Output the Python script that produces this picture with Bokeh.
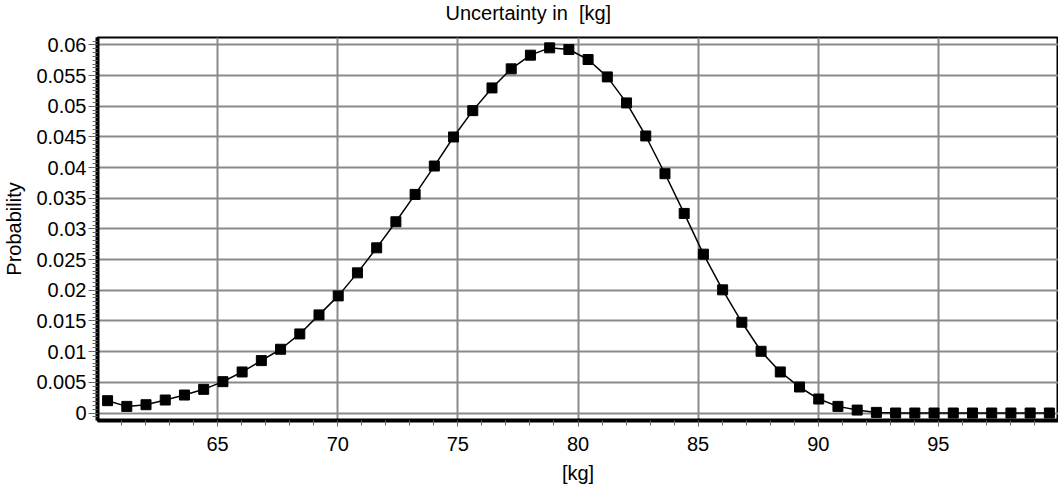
from bokeh.plotting import figure
from bokeh.models import Range1d, FixedTicker, CustomJSTickFormatter
from bokeh.embed import file_html
from bokeh.resources import INLINE

# ---- data ----
kg = [60.42, 61.22, 62.02, 62.82, 63.62, 64.42, 65.22, 66.02, 66.82, 67.62,
      68.42, 69.22, 70.02, 70.82, 71.62, 72.42, 73.22, 74.02, 74.82, 75.62,
      76.42, 77.22, 78.02, 78.82, 79.62, 80.42, 81.22, 82.02, 82.82, 83.62,
      84.42, 85.22, 86.02, 86.82, 87.62, 88.42, 89.22, 90.02, 90.82, 91.62,
      92.42, 93.22, 94.02, 94.82, 95.62, 96.42, 97.22, 98.02, 98.82, 99.62]

probability = [0.00201, 0.00108, 0.00135, 0.00212, 0.00293, 0.00386, 0.00511, 0.00669, 0.00854, 0.01039,
               0.01289, 0.01599, 0.01909, 0.02284, 0.02692, 0.03117, 0.03563, 0.04025, 0.04499, 0.04928,
               0.05298, 0.05609, 0.05832, 0.05951, 0.05924, 0.05761, 0.05478, 0.05054, 0.04515, 0.03900,
               0.03253, 0.02589, 0.02007, 0.01479, 0.01006, 0.00669, 0.00424, 0.00228, 0.00108, 0.00048,
               0.00010, 0.0, 0.0, 0.0, 0.0, 0.0, 0.0, 0.0, 0.0, 0.0]

x_ticks = [65, 70, 75, 80, 85, 90, 95]
y_ticks = [0, 0.005, 0.01, 0.015, 0.02, 0.025, 0.03, 0.035, 0.04, 0.045, 0.05, 0.055, 0.06]
y_tick_labels = ["0", "0.005", "0.01", "0.015", "0.02", "0.025", "0.03", "0.035",
                 "0.04", "0.045", "0.05", "0.055", "0.06"]

title_text = "Uncertainty in\u00a0 [kg]"
x_label = "[kg]"
y_label = "Probability"

FONT = "Liberation Sans"
FS = "20px"

p = figure(width=1058, height=486, output_backend="svg", toolbar_location=None,
           x_range=Range1d(60, 100), y_range=Range1d(-0.00122, 0.0612),
           min_border_left=93, min_border_right=0, min_border_top=37, min_border_bottom=66)

p.background_fill_color = "white"
p.border_fill_color = "white"
p.outline_line_color = "black"
p.outline_line_width = 2

# title
p.title.text = title_text
p.title.text_font = FONT
p.title.text_font_size = FS
p.title.text_font_style = "normal"
p.title.text_color = "black"
p.title.align = "left"
p.title.vertical_align = "top"
p.title.offset = 348
p.title.standoff = 0
p.title.padding = dict(left=0, right=0, top=0, bottom=12)

# tickers
x_minor = [v for v in range(61, 100) if v not in x_ticks]
y_minor = [round(i * 0.000625, 6) for i in range(-1, 98)]
p.xaxis.ticker = FixedTicker(ticks=x_ticks, minor_ticks=x_minor)
p.yaxis.ticker = FixedTicker(ticks=y_ticks, minor_ticks=y_minor)
p.yaxis.formatter = CustomJSTickFormatter(
    args=dict(vals=y_ticks, labels=y_tick_labels),
    code="const i = vals.indexOf(tick); return i >= 0 ? labels[i] : String(tick);")

for ax in (p.xaxis, p.yaxis):
    ax.axis_line_color = "black"
    ax.axis_line_width = 4
    ax.major_tick_in = 0
    ax.minor_tick_in = 0
    ax.major_tick_line_color = "#666666"
    ax.minor_tick_line_color = "#666666"
    ax.major_tick_line_width = 1
    ax.minor_tick_line_width = 1
    ax.major_label_text_font = FONT
    ax.major_label_text_font_size = FS
    ax.major_label_text_color = "black"
    ax.axis_label_text_font = FONT
    ax.axis_label_text_font_size = FS
    ax.axis_label_text_font_style = "normal"
    ax.axis_label_text_color = "black"

p.xaxis.major_tick_out = 6
p.xaxis.minor_tick_out = 5
p.xaxis.major_label_standoff = 10
p.xaxis.axis_label = x_label
p.xaxis.axis_label_standoff = 8

p.yaxis.major_tick_out = 9
p.yaxis.minor_tick_out = 5
p.yaxis.major_label_standoff = 2
p.yaxis.axis_label = y_label
p.yaxis.axis_label_standoff = 8

p.xgrid.grid_line_color = "#8a8a8a"
p.xgrid.grid_line_width = 2
p.ygrid.grid_line_color = "#8a8a8a"
p.ygrid.grid_line_width = 2

p.line(kg, probability, line_color="black", line_width=1.5)
p.scatter(kg, probability, marker="square", size=10, fill_color="black",
          line_color="black", line_width=1)

open("out.html", "w").write(file_html(p, INLINE))
